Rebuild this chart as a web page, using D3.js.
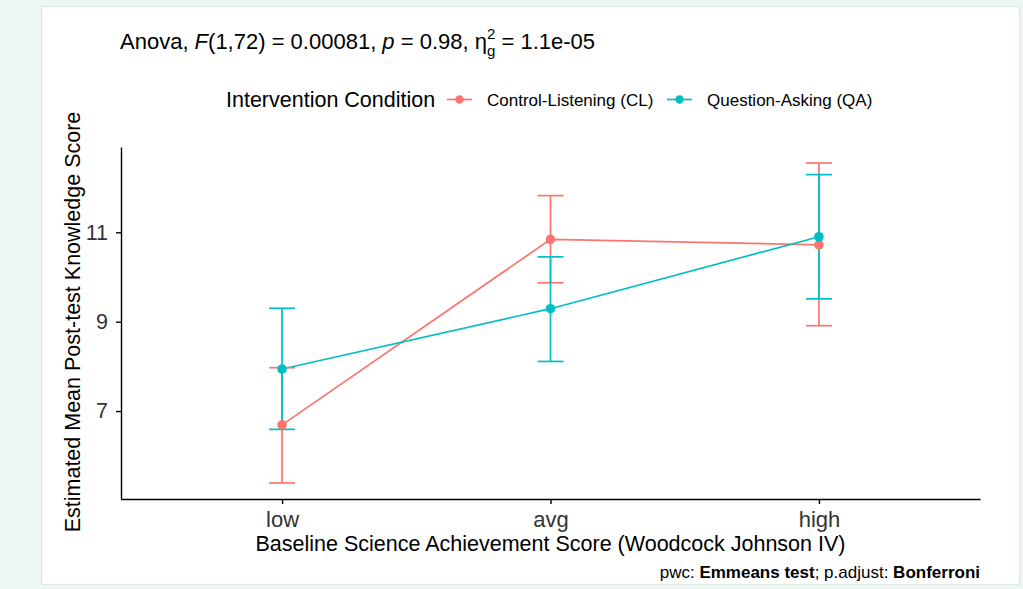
<!DOCTYPE html>
<html>
<head>
<meta charset="utf-8">
<script src="https://cdn.jsdelivr.net/npm/d3@7"></script>
<style>
  body { margin: 0; background: #eef6f2; }
  text { font-family: "Liberation Sans", Arial, sans-serif; }
</style>
</head>
<body>
<div id="chart"></div>
<script>
// data
var levels = ["low", "avg", "high"];
var groups = ["Control-Listening (CL)", "Question-Asking (QA)"];
var groupColors = ["#F8766D", "#00BFC4"];

var clMean = [6.69, 10.84, 10.72];
var clLow  = [5.39, 9.87, 8.91];
var clHigh = [7.97, 11.82, 12.55];

var qaMean = [7.94, 9.29, 10.90];
var qaLow  = [6.59, 8.11, 9.51];
var qaHigh = [9.30, 10.45, 12.29];

var yTicks = [7, 9, 11];

var series = [
  {name: groups[0], color: groupColors[0], mean: clMean, lo: clLow, hi: clHigh},
  {name: groups[1], color: groupColors[1], mean: qaMean, lo: qaLow, hi: qaHigh}
];

var W = 1023, H = 589;
var margin = {top: 147, right: 43, bottom: 90, left: 121},
    width = W - margin.left - margin.right,
    height = 499 - margin.top;

var svg = d3.select("#chart")
  .append("svg")
    .attr("width", W)
    .attr("height", H);

// page background + white card
svg.append("rect")
  .attr("width", W).attr("height", H)
  .attr("fill", "#eef6f2");
svg.append("rect")
  .attr("x", 41.5).attr("y", 6.5)
  .attr("width", 978).attr("height", 578)
  .attr("fill", "#ffffff")
  .attr("stroke", "#dde8e2");

var g = svg.append("g")
  .attr("transform", "translate(" + margin.left + "," + margin.top + ")");

// scales (ggplot style expansion)
var x = d3.scalePoint()
  .domain(levels)
  .range([0, width])
  .padding(0.6);

var allVals = clLow.concat(clHigh, qaLow, qaHigh);
var ext = d3.extent(allVals);
var pad = (ext[1] - ext[0]) * 0.05;
var y = d3.scaleLinear()
  .domain([ext[0] - pad, ext[1] + pad])
  .range([height, 0]);

// axes
var xAxis = g.append("g")
  .attr("transform", "translate(0," + height + ")")
  .call(d3.axisBottom(x).tickSize(5).tickPadding(5).tickSizeOuter(0));
var yAxis = g.append("g")
  .call(d3.axisLeft(y).tickValues(yTicks).tickSize(5).tickPadding(8).tickSizeOuter(0));

[xAxis, yAxis].forEach(function(a) {
  a.select(".domain").attr("stroke", "#000").attr("stroke-width", 1.4);
  a.selectAll(".tick line").attr("stroke", "#000").attr("stroke-width", 1.4);
  a.selectAll(".tick text")
    .attr("fill", "#333")
    .style("font-size", "21.5px")
    .style("font-family", "'Liberation Sans', Arial, sans-serif");
});
xAxis.selectAll(".tick text").attr("dy", "0.8em").style("font-size", "22px");

// lines
var line = d3.line()
  .x(function(d, i) { return x(levels[i]); })
  .y(function(d) { return y(d); });

series.forEach(function(s) {
  g.append("path")
    .datum(s.mean)
    .attr("fill", "none")
    .attr("stroke", s.color)
    .attr("stroke-width", 1.7)
    .attr("d", line);
});

// error bars
var capW = 13;
series.forEach(function(s) {
  var eb = g.append("g").attr("stroke", s.color).attr("stroke-width", 1.7);
  levels.forEach(function(lv, i) {
    var cx = x(lv);
    eb.append("line").attr("x1", cx).attr("x2", cx).attr("y1", y(s.lo[i])).attr("y2", y(s.hi[i]));
    eb.append("line").attr("x1", cx - capW).attr("x2", cx + capW).attr("y1", y(s.lo[i])).attr("y2", y(s.lo[i]));
    eb.append("line").attr("x1", cx - capW).attr("x2", cx + capW).attr("y1", y(s.hi[i])).attr("y2", y(s.hi[i]));
  });
});

// points
series.forEach(function(s) {
  g.selectAll(null)
    .data(s.mean)
    .enter()
    .append("circle")
      .attr("cx", function(d, i) { return x(levels[i]); })
      .attr("cy", function(d) { return y(d); })
      .attr("r", 4.8)
      .attr("fill", s.color);
});

// axis titles
svg.append("text")
  .attr("x", margin.left + width / 2)
  .attr("y", 551)
  .attr("text-anchor", "middle")
  .style("font-size", "21.5px")
  .text("Baseline Science Achievement Score (Woodcock Johnson IV)");

svg.append("text")
  .attr("transform", "translate(80," + 322 + ") rotate(-90)")
  .attr("text-anchor", "middle")
  .style("font-size", "21.5px")
  .text("Estimated Mean Post-test Knowledge Score");

// title with italics and stacked sub/superscript
var title = svg.append("text")
  .attr("x", 120)
  .attr("y", 49)
  .style("font-size", "22px")
  .attr("fill", "#000");
title.append("tspan").text("Anova, ");
title.append("tspan").style("font-style", "italic").text("F");
title.append("tspan").text("(1,72) = 0.00081, ");
title.append("tspan").style("font-style", "italic").text("p");
title.append("tspan").text(" = 0.98, ");
title.append("tspan").text("\u03B7");
title.append("tspan").attr("dy", -10).style("font-size", "15px").text("2");
title.append("tspan").attr("dx", -8.3).attr("dy", 17).style("font-size", "15px").text("g");
title.append("tspan").attr("dy", -7).text(" = 1.1e-05");

// legend
var leg = svg.append("g");
leg.append("text")
  .attr("x", 226).attr("y", 107)
  .style("font-size", "21.5px")
  .text("Intervention Condition");
var legX = [447, 667];
series.forEach(function(s, i) {
  leg.append("line")
    .attr("x1", legX[i]).attr("x2", legX[i] + 25)
    .attr("y1", 99.5).attr("y2", 99.5)
    .attr("stroke", s.color).attr("stroke-width", 1.7);
  leg.append("circle")
    .attr("cx", legX[i] + 12.5).attr("cy", 99.5).attr("r", 4.2)
    .attr("fill", s.color);
  leg.append("text")
    .attr("x", legX[i] + 40).attr("y", 106)
    .style("font-size", "17px")
    .text(s.name);
});

// caption
var cap = svg.append("text")
  .attr("x", 980).attr("y", 578)
  .attr("text-anchor", "end")
  .style("font-size", "17px");
cap.append("tspan").text("pwc: ");
cap.append("tspan").style("font-weight", "bold").text("Emmeans test");
cap.append("tspan").text("; p.adjust: ");
cap.append("tspan").style("font-weight", "bold").text("Bonferroni");
</script>
</body>
</html>
